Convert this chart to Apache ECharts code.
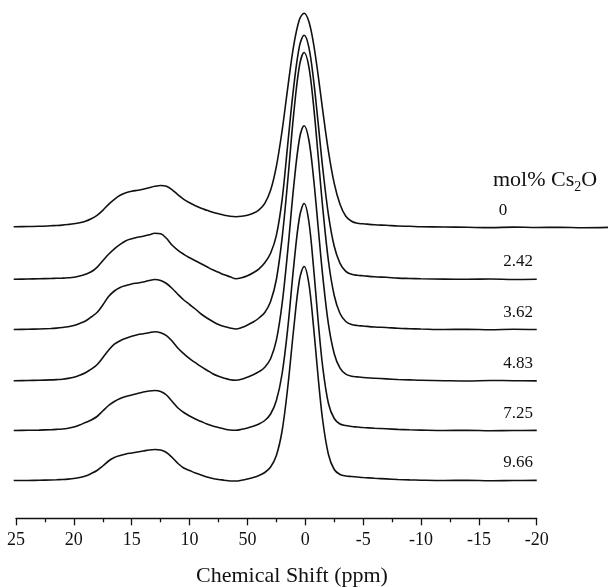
<!DOCTYPE html>
<html>
<head>
<meta charset="utf-8">
<script src="https://cdn.jsdelivr.net/npm/echarts@6/dist/echarts.min.js"></script>
<style>
  html, body { margin: 0; padding: 0; background: #fff; }
  #chart { width: 608px; height: 587px; }
</style>
</head>
<body>
<div id="chart"></div>
<script>
// Chemical shift sampling points (ppm), shared by all spectra
const ppm = [25.2, 24, 23, 22, 21.5, 21, 20.5, 20, 19.5, 19, 18.5, 18, 17.5, 17, 16.5, 16, 15.5, 15,
  14.5, 14, 13.5, 13, 12.5, 12, 11.5, 11, 10.5, 10, 9.5, 9, 8.5, 8, 7.5, 7, 6.5, 6, 5.5, 5, 4.5, 4,
  3.5, 3, 2.5, 2, 1.5, 1, 0.5, 0.1, -0.3, -0.7, -1.1, -1.5, -2, -2.5, -3, -3.5, -4, -4.5, -5, -6, -7,
  -8, -9, -10, -12, -14, -16, -18, -20, -22, -24, -26.5];

// Axis ticks and their printed labels
const tickValues = [25, 20, 15, 10, 5, 0, -5, -10, -15, -20];
const tickLabels = ['25', '20', '15', '10', '50', '0', '-5', '-10', '-15', '-20'];

// Cs2O content of each glass (mol%) and the vertical stacking offset of each trace
const compositions = ['0', '2.42', '3.62', '4.83', '7.25', '9.66'];
const stackOffset = [272.7, 220.7, 170.5, 119.3, 69.5, 19.5];

// Intensities (arbitrary units) along ppm
const cs0 = [0.5, 0.8, 1, 1.5, 1.8, 2.2, 2.8, 3.5, 4.5, 6, 8.5, 12, 17, 23,
  28, 32, 34.5, 36, 37, 38, 39.5, 41, 41.8, 41,
  37.5, 32.5, 28, 24.5, 21.5, 19, 17, 15, 13.5, 12, 11,
  10.6, 11, 12, 14, 17.5, 24, 37, 61, 97, 141, 182, 208, 214,
  206, 184.5, 153, 117.5, 76, 44, 23, 11, 6, 4, 3.5,
  2.5, 2, 1.3, 1, 0.6, 0.3, 0, -0.3, 0.2, -0.2, 0, -0.4, 0];
const cs242 = [0, 0.3, 0.5, 0.8, 1, 1.2, 1.5, 2, 3.2, 5, 7.5, 12, 18.5, 25,
  30.5, 35, 38.5, 40.5, 42, 43, 44.5, 46, 45.5, 41,
  34, 29, 25, 21.5, 18.5, 15.5, 12.5, 9.5, 7, 4.5, 2.5,
  0.5, 1.5, 3.5, 6.5, 10.5, 16.5, 26, 44, 80, 137, 192.6, 233.4, 244,
  232.4, 200.7, 157.5, 112, 64.5, 33, 16, 8, 5, 4, 3.5,
  2.5, 2, 1.2, 0.8, 0.5, 0.2, 0, 0.3, -0.2, 0];
const cs362 = [0, 0.2, 0.5, 1, 1.4, 2, 2.8, 4, 6, 8.5, 12.5, 17, 24.5, 33,
  38.5, 42, 44, 45.5, 46.5, 47.5, 49, 50, 49, 46,
  41, 35, 29.5, 25, 20.5, 15.5, 11.5, 8, 5, 3, 1.5,
  0.5, 2, 4.5, 7.5, 11.5, 17, 28, 50, 91.8, 151, 215.8, 264.2, 277,
  263.2, 225.7, 175, 122.5, 68.5, 34, 16, 8, 5, 4, 3.5,
  2.5, 2, 1.2, 0.8, 0.5, 0, 0.2, -0.2, 0.3, 0];
const cs483 = [0, 0.2, 0.4, 0.8, 1.1, 1.5, 2.3, 3.5, 5.5, 8, 11.5, 16, 23, 30.5,
  36.5, 40, 42.5, 44.5, 46, 47, 48, 49, 48, 45,
  39.5, 32.5, 27, 22, 18, 14, 10.5, 7, 4.5, 2.5, 1,
  0.5, 1.5, 3.5, 6, 9, 13.5, 22, 40.5, 77.3, 132.1, 194.5, 242.2, 255,
  241.2, 204.2, 155, 105.5, 56.5, 27, 12.5, 6.5, 4.5, 3.8, 3.2,
  2.5, 1.8, 1.2, 0.8, 0.4, 0, -0.3, 0.2, 0, -0.2];
const cs725 = [0, 0.2, 0.4, 0.8, 1.1, 1.5, 2.3, 3.5, 5.5, 8, 10.5, 14, 19.5, 25,
  29, 32, 34, 35.5, 37, 38.5, 39.5, 40, 39, 35.5,
  29, 22.5, 18, 14.5, 11.5, 9, 6.5, 4.5, 3, 1.5, 0.5,
  0.3, 1.2, 2.5, 4.2, 6.5, 10, 16.5, 30, 57, 104, 164.4, 213.5, 227,
  209.5, 164.8, 111, 64, 27, 12, 6.5, 5, 4, 3.5, 3,
  2.3, 1.7, 1.1, 0.7, 0.4, 0, 0.2, -0.2, 0, 0.1];
const cs966 = [0, 0, 0.3, 0.5, 0.7, 1, 1.4, 2, 3, 4.5, 7, 10, 14.5, 19.5,
  23, 25, 26.5, 27.5, 28.5, 29.5, 30.5, 31, 30.5, 28,
  23, 17, 12.5, 10, 7.5, 5.5, 3.5, 2, 1, 0.3, -0.5,
  -0.5, 0.3, 1.5, 3, 5, 8, 13.5, 25, 50, 95, 152, 201, 214,
  197.5, 155.4, 104.5, 60.5, 26, 11, 6, 4.5, 4, 3.5, 3,
  2.2, 1.6, 1, 0.6, 0.3, 0, 0.2, -0.3, 0, 0.1];
const spectra = [cs0, cs242, cs362, cs483, cs725, cs966];

// ---- layout ----
const W = 608;
const FONT = '"Liberation Serif", "Times New Roman", serif';
const PX_PER_PPM = 11.572;
const AXIS_LEFT = 16;
const AXIS_Y = 518.3;
const DATA_MAX = 25.3;
const DATA_LEFT = AXIS_LEFT - (DATA_MAX - 25) * PX_PER_PPM;
const DATA_MIN = DATA_MAX - (W - DATA_LEFT) / PX_PER_PPM;

const chart = echarts.init(document.getElementById('chart'), null, { renderer: 'canvas' });

const series = spectra.map((vals, k) => ({
  type: 'line',
  name: compositions[k],
  xAxisIndex: 0,
  yAxisIndex: 0,
  data: vals.map((v, i) => [ppm[i], stackOffset[k] + v]),
  showSymbol: false,
  smooth: 0.35,
  clip: true,
  lineStyle: { color: '#111', width: 1.6 },
  silent: true,
  animation: false
}));

const labelStyle = { fontFamily: FONT, fontSize: 17, fill: '#111' };
const labelPos = [[503, 210.7, 'center'], [533, 262, 'right'], [533, 312.7, 'right'],
  [533, 363.3, 'right'], [533, 413.3, 'right'], [533, 462.7, 'right']];

const graphics = compositions.map((c, k) => ({
  type: 'text',
  x: labelPos[k][0],
  y: labelPos[k][1],
  style: Object.assign({ text: c, align: labelPos[k][2], verticalAlign: 'middle' }, labelStyle)
}));
graphics.push({
  type: 'text',
  x: 493,
  y: 180,
  style: {
    text: '{a|mol% Cs}{s|2}{a|O}',
    align: 'left',
    verticalAlign: 'middle',
    rich: {
      a: { fontFamily: FONT, fontSize: 22, fill: '#111', lineHeight: 28, verticalAlign: 'middle' },
      s: { fontFamily: FONT, fontSize: 14, fill: '#111', lineHeight: 15, verticalAlign: 'bottom' }
    }
  }
});
graphics.push({
  type: 'text',
  x: 292,
  y: 576,
  style: { text: 'Chemical Shift (ppm)', fontFamily: FONT, fontSize: 22, fill: '#111',
    align: 'center', verticalAlign: 'middle' }
});

chart.setOption({
  animation: false,
  backgroundColor: '#fff',
  grid: [
    { left: DATA_LEFT, top: 0, right: 0, height: 500 },
    { left: AXIS_LEFT, top: AXIS_Y - 20, width: 45 * PX_PER_PPM, height: 20 }
  ],
  xAxis: [
    { type: 'value', gridIndex: 0, min: DATA_MIN, max: DATA_MAX, inverse: true, show: false },
    { type: 'value', gridIndex: 1, min: -20, max: 25, interval: 5, inverse: true,
      axisLine: { show: true, lineStyle: { color: '#111', width: 1.3 } },
      axisTick: { show: true, inside: false, length: 7, lineStyle: { color: '#111', width: 1.3 } },
      minorTick: { show: true, splitNumber: 2, length: 4, lineStyle: { color: '#111', width: 1.3 } },
      splitLine: { show: false },
      axisLabel: {
        margin: 13, fontFamily: FONT, fontSize: 18, color: '#111',
        formatter: v => { const i = tickValues.indexOf(v); return i >= 0 ? tickLabels[i] : ''; }
      }
    }
  ],
  yAxis: [
    { type: 'value', gridIndex: 0, min: 0, max: 500, show: false },
    { type: 'value', gridIndex: 1, min: 0, max: 1, show: false }
  ],
  series: series,
  graphic: graphics
});
</script>
</body>
</html>
